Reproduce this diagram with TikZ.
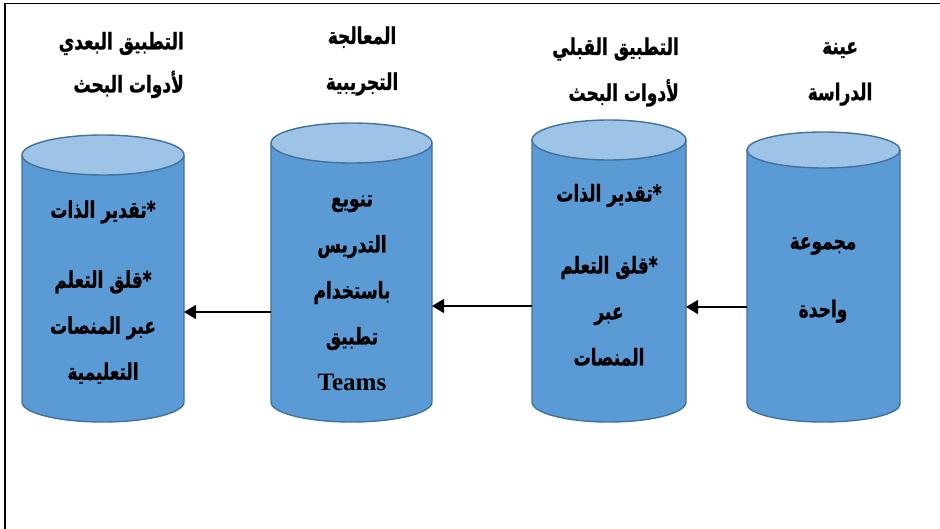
\documentclass[tikz,border=0pt]{standalone}
\usepackage{fontspec}
\usetikzlibrary{arrows.meta}
\TeXXeTstate=1
\newfontfamily\arabicfont[Script=Arabic,FakeStretch=0.74,FakeBold=1]{DejaVu Sans}
\newfontfamily\teamsfont{Liberation Serif}
\definecolor{drumbody}{HTML}{5B9BD5}
\definecolor{drumtop}{HTML}{9DC3E6}
\definecolor{drumline}{HTML}{41719C}
\tikzset{
  drum/.style={fill=drumbody,draw=drumline,line width=1.4pt},
  lid/.style={fill=drumtop,draw=drumline,line width=1.4pt},
  txt/.style={font=\arabicfont\bfseries\fontsize{23}{46}\selectfont,align=center,inner sep=0pt},
  flow/.style={line width=1.5pt,-{Triangle[length=12pt,width=14pt]}}
}
\begin{document}
\begin{tikzpicture}[x=1pt,y=1pt]
\useasboundingbox (0,0) rectangle (940,-529);
\draw [line width=1.5pt] (5,-529) -- (5,-3.5) -- (940,-3.5);
% the four drums
\draw [drum] (22,-155) -- (22,-402) arc [start angle=180,end angle=360,x radius=81,y radius=20] -- (184,-155);
\draw [lid] (103,-155) ellipse [x radius=81,y radius=20];
\draw [drum] (271,-143) -- (271,-402) arc [start angle=180,end angle=360,x radius=80.5,y radius=20] -- (432,-143);
\draw [lid] (351.5,-143) ellipse [x radius=80.5,y radius=20];
\draw [drum] (532,-140) -- (532,-402) arc [start angle=180,end angle=360,x radius=77,y radius=20] -- (686,-140);
\draw [lid] (609,-140) ellipse [x radius=77,y radius=20];
\draw [drum] (747,-150) -- (747,-404) arc [start angle=180,end angle=360,x radius=76.5,y radius=18] -- (900,-150);
\draw [lid] (823.5,-150) ellipse [x radius=76.5,y radius=18];
% titles
\node [txt,anchor=east,align=right] (postT) at (184,-65) {\beginR التطبيق البعدي\endR\\[-3pt] \beginR لأدوات البحث\endR};
\node [txt] (treatT) at (362,-61) {\beginR المعالجة\endR\\ \beginR التجريبية\endR};
\node [txt,anchor=east,align=right] (preT) at (679,-72) {\beginR التطبيق القبلي\endR\\ \beginR لأدوات البحث\endR};
\node [txt] (sampleT) at (840,-74) {\beginR عينة\endR\\ \beginR الدراسة\endR};
% drum texts
\node [txt] (post) at (103,-292) {\beginR *تقدير الذات\endR\\[24pt] \beginR *قلق التعلم\endR\\ \beginR عبر المنصات\endR\\ \beginR التعليمية\endR};
\node [txt] (treat) at (352,-293) {\beginR تنويع\endR\\ \beginR التدريس\endR\\ \beginR باستخدام\endR\\ \beginR تطبيق\endR\\ {\teamsfont\bfseries\fontsize{25}{46}\selectfont Teams}};
\node [txt] (pre) at (609,-275) {\beginR *تقدير الذات\endR\\[26pt] \beginR *قلق التعلم\endR\\ \beginR عبر\endR\\ \beginR المنصات\endR};
\node [txt] (sample) at (823,-280) {\beginR مجموعة\endR\\[22pt] \beginR واحدة\endR};
% arrows
\coordinate (Sw) at (747,-307);
\coordinate (Re) at (686,-307);
\coordinate (Rw) at (532,-306);
\coordinate (Te) at (432,-306);
\coordinate (Tw) at (271,-312);
\coordinate (Pe) at (184,-312);
\draw [flow] (Sw) -- (Re);
\draw [flow] (Rw) -- (Te);
\draw [flow] (Tw) -- (Pe);
\end{tikzpicture}
\end{document}
